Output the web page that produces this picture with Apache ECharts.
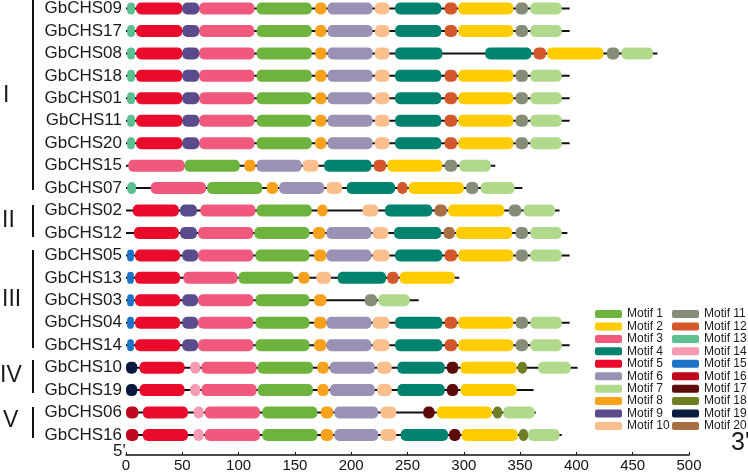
<!DOCTYPE html>
<html><head><meta charset="utf-8">
<script src="https://cdn.jsdelivr.net/npm/echarts@6/dist/echarts.min.js"></script>
<style>html,body{margin:0;padding:0;background:#fff}#c{width:748px;height:473px}</style>
</head><body><div id="c"></div>
<script>
const genes = ['GbCHS09','GbCHS17','GbCHS08','GbCHS18','GbCHS01','GbCHS11','GbCHS20','GbCHS15','GbCHS07','GbCHS02','GbCHS12','GbCHS05','GbCHS13','GbCHS03','GbCHS04','GbCHS14','GbCHS10','GbCHS19','GbCHS06','GbCHS16'];
const geneLengths = [394,394,472,394,394,394,394,328,352,385,392,394,296,260,394,394,401,362,364,387];
const motifNames = ['Motif 1','Motif 2','Motif 3','Motif 4','Motif 5','Motif 6','Motif 7','Motif 8','Motif 9','Motif 10','Motif 11','Motif 12','Motif 13','Motif 14','Motif 15','Motif 16','Motif 17','Motif 18','Motif 19','Motif 20'];
const motifColors = ['#6fb33f','#ffcc00','#f0587c','#00826f','#ea0a2c','#9b91b5','#b1d98b','#f8a11c','#5b4a8c','#fbbf8d','#868d76','#d4572c','#5bbf90','#f49ab1','#1e73c8','#c0071d','#5c0a0a','#6e7f24','#0b1a40','#a87040'];
// motif hits per gene: [motif number, start, end]
const GbCHS09 = [[13,1,8],[5,9,50],[9,50,65],[3,65,114],[1,116,165],[8,168,178],[6,179,219],[10,221,234],[4,239,280],[12,283,294],[2,295,344],[11,346,357],[7,359,387]];
const GbCHS17 = [[13,1,8],[5,9,50],[9,50,65],[3,65,114],[1,116,165],[8,168,178],[6,179,219],[10,221,234],[4,239,280],[12,283,294],[2,295,344],[11,346,357],[7,359,387]];
const GbCHS08 = [[13,1,8],[5,9,50],[9,50,65],[3,65,114],[1,116,165],[8,168,178],[6,179,219],[10,221,234],[4,239,281],[4,319,360],[12,362,373],[2,374,424],[11,427,438],[7,440,468]];
const GbCHS18 = [[13,1,8],[5,9,50],[9,50,65],[3,65,114],[1,116,165],[8,168,178],[6,179,219],[10,221,234],[4,239,280],[12,283,294],[2,295,344],[11,346,357],[7,359,387]];
const GbCHS01 = [[13,1,8],[5,9,50],[9,50,65],[3,65,114],[1,116,165],[8,168,178],[6,179,219],[10,221,234],[4,239,280],[12,283,294],[2,295,344],[11,346,357],[7,359,387]];
const GbCHS11 = [[13,1,8],[5,9,50],[9,50,65],[3,65,114],[1,116,165],[8,168,178],[6,179,219],[10,221,234],[4,239,280],[12,283,294],[2,295,344],[11,346,357],[7,359,387]];
const GbCHS20 = [[13,1,8],[5,9,50],[9,50,65],[3,65,114],[1,116,165],[8,168,178],[6,179,219],[10,221,234],[4,239,280],[12,283,294],[2,295,344],[11,346,357],[7,359,387]];
const GbCHS15 = [[3,2,52],[1,52,101],[8,105,115],[6,116,156],[10,157,171],[4,176,218],[12,220,231],[2,232,281],[11,283,294],[7,296,324]];
const GbCHS07 = [[13,1,9],[3,22,71],[1,72,121],[8,125,135],[6,136,176],[10,178,192],[4,196,239],[12,241,250],[2,251,300],[11,302,313],[7,315,345]];
const GbCHS02 = [[5,6,47],[9,48,63],[3,66,115],[1,116,165],[8,170,179],[10,210,224],[4,230,272],[20,274,285],[2,286,336],[11,340,351],[7,353,381]];
const GbCHS12 = [[5,7,47],[9,48,63],[3,64,113],[1,114,163],[8,166,177],[6,178,218],[10,219,233],[4,238,280],[20,282,292],[2,293,343],[11,346,357],[7,359,387]];
const GbCHS05 = [[15,1,7],[5,8,48],[9,50,64],[3,64,113],[1,115,163],[8,167,178],[6,178,218],[10,219,234],[4,239,281],[12,283,294],[2,295,344],[11,346,357],[7,359,387]];
const GbCHS13 = [[15,1,7],[5,8,48],[3,51,99],[1,100,149],[8,153,163],[10,169,182],[4,188,231],[12,232,242],[2,243,292]];
const GbCHS03 = [[15,1,7],[5,8,48],[9,50,64],[3,64,113],[1,115,163],[8,167,178],[11,212,223],[7,224,252]];
const GbCHS04 = [[15,1,7],[5,8,48],[9,50,64],[3,64,113],[1,115,163],[8,167,178],[6,178,218],[10,219,234],[4,239,281],[12,283,294],[2,295,344],[11,346,357],[7,359,387]];
const GbCHS14 = [[15,1,7],[5,8,48],[9,50,64],[3,64,113],[1,115,163],[8,167,178],[6,178,218],[10,219,234],[4,239,281],[12,283,294],[2,295,344],[11,346,357],[7,359,387]];
const GbCHS10 = [[19,0,10],[5,12,52],[14,57,66],[3,67,116],[1,117,166],[8,170,180],[6,181,221],[10,223,236],[4,241,283],[17,285,295],[2,297,347],[18,348,356],[7,366,395]];
const GbCHS19 = [[19,0,10],[5,12,52],[14,57,66],[3,67,116],[1,117,166],[8,170,180],[6,181,221],[10,223,236],[4,241,283],[17,285,295],[2,297,347]];
const GbCHS06 = [[16,0,11],[5,15,55],[14,60,69],[3,70,119],[1,121,170],[8,173,184],[6,185,224],[10,226,240],[17,264,274],[2,276,325],[18,326,334],[7,335,363]];
const GbCHS16 = [[16,0,11],[5,15,55],[14,60,69],[3,70,119],[1,121,170],[8,173,184],[6,185,224],[10,226,240],[4,244,286],[17,287,297],[2,298,348],[18,349,357],[7,357,385]];
const geneMotifs = [GbCHS09,GbCHS17,GbCHS08,GbCHS18,GbCHS01,GbCHS11,GbCHS20,GbCHS15,GbCHS07,GbCHS02,GbCHS12,GbCHS05,GbCHS13,GbCHS03,GbCHS04,GbCHS14,GbCHS10,GbCHS19,GbCHS06,GbCHS16];
const xTicks = [0,50,100,150,200,250,300,350,400,450,500];

const FONT = 'Liberation Sans, Arial, sans-serif';
const chart = echarts.init(document.getElementById('c'), null, {renderer:'canvas'});

const motifSeries = motifNames.map((name, mi) => {
  const data = [];
  geneMotifs.forEach((hits, gi) => hits.forEach(h => { if (h[0] === mi + 1) data.push([h[1], h[2], gi]); }));
  return {
    type:'custom', name, z: 3,
    itemStyle:{color: motifColors[mi]},
    encode:{x:[0,1], y:2},
    data,
    renderItem(params, api){
      const s = api.coord([api.value(0), api.value(2)]);
      const e = api.coord([api.value(1), api.value(2)]);
      const h = 12;
      return {type:'rect', shape:{x:s[0], y:s[1]-h/2, width:e[0]-s[0], height:h, r:5}, style:{fill: api.visual('color')}};
    }
  };
});

const backbone = {
  type:'custom', name:'backbone', z:2, silent:true,
  encode:{x:[0,1], y:2},
  data: geneLengths.map((L, i) => [0, L, i]),
  renderItem(params, api){
    const s = api.coord([api.value(0), api.value(2)]);
    const e = api.coord([api.value(1), api.value(2)]);
    return {type:'line', shape:{x1:s[0], y1:s[1], x2:e[0], y2:e[1]}, style:{stroke:'#111', lineWidth:2}};
  }
};

const legendCommon = {
  orient:'vertical', icon:'roundRect', itemWidth:27, itemHeight:8, itemGap:0.44, padding:0,
  textStyle:{fontSize:12, color:'#1a1a1a', fontFamily:FONT},
  selectedMode:false, top:308
};

const groups = [
  {label:'I', x:3, y:96, y1:0, y2:190},
  {label:'II', x:2, y:221, y1:205, y2:237},
  {label:'III', x:2, y:300, y1:250, y2:348},
  {label:'IV', x:0, y:376, y1:360, y2:393},
  {label:'V', x:3, y:421, y1:407, y2:438}
];
const graphics = [];
groups.forEach(g => {
  graphics.push({type:'line', shape:{x1:33, y1:g.y1, x2:33, y2:g.y2}, style:{stroke:'#111', lineWidth:2}});
  graphics.push({type:'text', x:g.x, y:g.y, style:{text:g.label, font:'23px '+FONT, fill:'#1a1a1a', textVerticalAlign:'middle', textAlign:'left'}});
});
graphics.push({type:'text', x:113, y:451, style:{text:"5'", font:'17px '+FONT, fill:'#1a1a1a', textVerticalAlign:'middle', textAlign:'left'}});
graphics.push({type:'text', x:731, y:443, style:{text:"3'", font:'25px '+FONT, fill:'#1a1a1a', textVerticalAlign:'middle', textAlign:'left'}});

chart.setOption({
  animation:false,
  backgroundColor:'#fff',
  grid:{left:126, right:59, top:7.3, bottom:36.7},
  xAxis:{type:'value', min:0, max:500, interval:50, offset:20,
    axisLine:{show:true, lineStyle:{color:'#111', width:1.5}},
    axisTick:{show:true, inside:true, length:3, lineStyle:{color:'#111'}},
    axisLabel:{fontSize:15, color:'#111', fontFamily:FONT, margin:3,
      customValues: xTicks},
    splitLine:{show:false}},
  yAxis:{type:'category', data:genes, inverse:true, boundaryGap:false,
    axisLine:{show:false}, axisTick:{show:false}, splitLine:{show:false},
    axisLabel:{fontSize:17, color:'#1a1a1a', fontFamily:FONT, margin:4, interval:0}},
  legend:[
    Object.assign({}, legendCommon, {left:595, data:motifNames.slice(0,10)}),
    Object.assign({}, legendCommon, {left:672, data:motifNames.slice(10,20)})
  ],
  graphic: graphics,
  series:[backbone].concat(motifSeries)
});
</script>
</body></html>
